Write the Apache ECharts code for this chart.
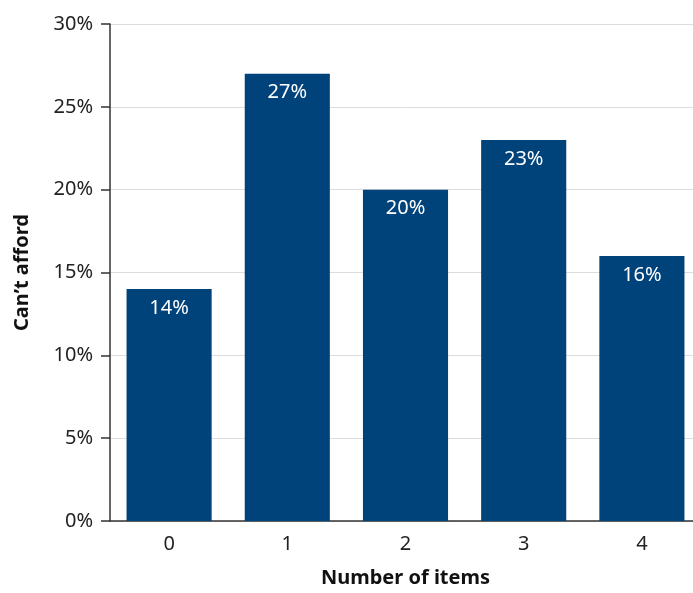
<!DOCTYPE html>
<html><head><meta charset="utf-8">
<script src="https://cdn.jsdelivr.net/npm/echarts@6/dist/echarts.min.js"></script>
<style>html,body{margin:0;padding:0;background:#fff;overflow:hidden}#c{width:701px;height:593px}</style>
</head><body><div id="c"></div>
<script>
const categories = ['0', '1', '2', '3', '4'];
const values = [14, 27, 20, 23, 16];
const yTicks = [0, 5, 10, 15, 20, 25, 30];

const chart = echarts.init(document.getElementById('c'), null, {renderer: 'canvas'});
const font = 'Noto Sans';
chart.setOption({
  animation: false,
  grid: {left: 110, right: 0, top: 24, bottom: 66, containLabel: false},
  xAxis: {
    type: 'category', data: categories,
    name: 'Number of items', nameLocation: 'middle', nameGap: 47,
    nameTextStyle: {fontFamily: font, fontSize: 20, fontWeight: 'bold', color: '#111'},
    axisLine: {lineStyle: {color: '#333', width: 1.5}},
    axisTick: {show: false},
    axisLabel: {fontFamily: font, fontSize: 20, color: '#222', margin: 13}
  },
  yAxis: {
    type: 'value', min: yTicks[0], max: yTicks[yTicks.length - 1], interval: 5,
    name: 'Can’t afford', nameLocation: 'middle', nameGap: 78,
    nameTextStyle: {fontFamily: font, fontSize: 20, fontWeight: 'bold', color: '#111'},
    axisLine: {show: true, lineStyle: {color: '#333', width: 1.5}},
    axisTick: {show: true, length: 9, lineStyle: {color: '#333', width: 1.5}},
    axisLabel: {fontFamily: font, fontSize: 20, color: '#222', margin: 17, formatter: '{value}%'},
    splitLine: {lineStyle: {color: '#dcdcdc', width: 1}}
  },
  series: [{
    type: 'bar', data: values, barCategoryGap: '28%',
    itemStyle: {color: '#00427a'},
    label: {show: true, position: 'insideTop', distance: 9, formatter: '{c}%',
      color: '#fff', fontFamily: font, fontSize: 20}
  }]
});
</script></body></html>
